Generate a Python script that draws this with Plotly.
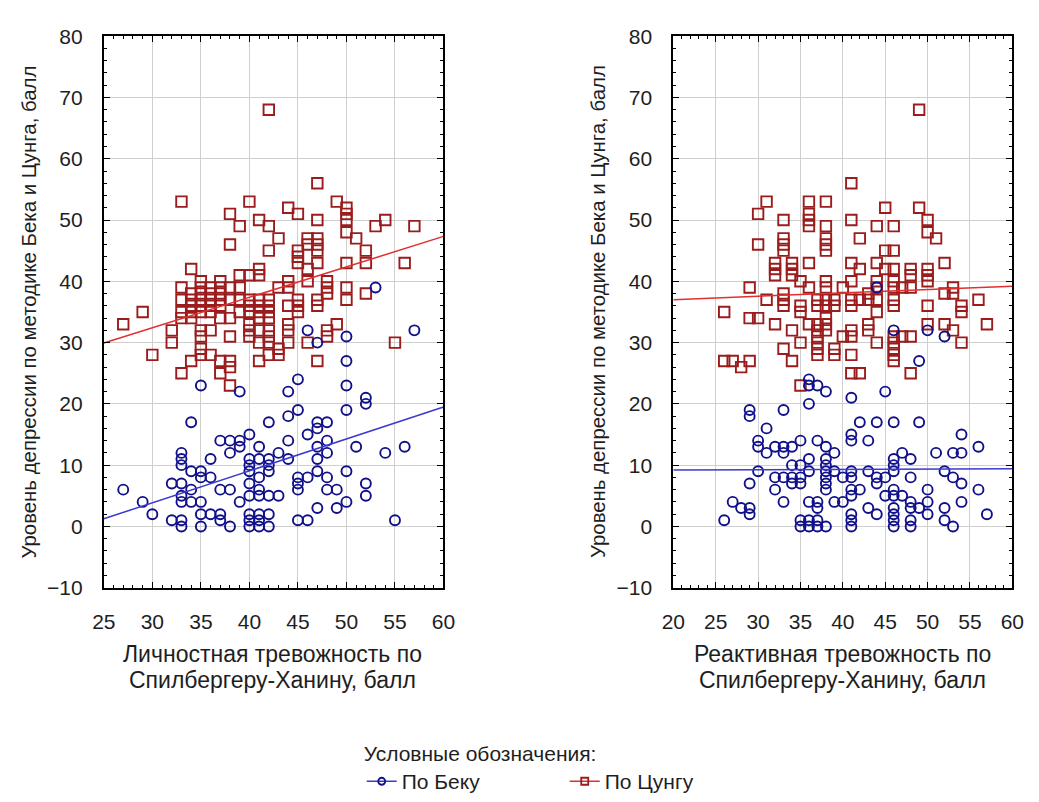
import numpy as np
import plotly.graph_objects as go

# ---------------- data ----------------
# Left panel: personal anxiety (x) vs depression score
left_zung = [(27,33),(29,35),(30,28),(32,32),(32,30),
 (33,39),(33,37),(33,35),(33,34),(33,25),(33,53),
 (34,42),(34,38),(34,37),(34,36),(34,35),(34,34),(34,27),
 (35,40),(35,39),(35,38),(35,37),(35,36),(35,35),(35,32),(35,31),(35,29),(35,28),
 (36,39),(36,38),(36,37),(36,36),(36,35),(36,32),(36,28),
 (37,40),(37,39),(37,38),(37,37),(37,36),(37,34),(37,27),(37,25),
 (38,51),(38,46),(38,39),(38,37),(38,34),(38,31),(38,27),(38,26),(38,23),
 (39,49),(39,41),(39,39),(39,37),(39,35),
 (40,53),(40,41),(40,37),(40,36),(40,35),(40,33),(40,32),(40,31),
 (41,50),(41,42),(41,41),(41,37),(41,36),(41,35),(41,34),(41,32),(41,30),(41,27),
 (42,68),(42,49),(42,45),(42,37),(42,36),(42,35),(42,34),(42,32),(42,31),(42,30),(42,28),
 (43,47),(43,39),(43,29),(43,28),
 (44,52),(44,40),(44,39),(44,36),(44,33),(44,32),(44,30),
 (45,51),(45,45),(45,44),(45,43),(45,37),(45,36),(45,35),
 (46,47),(46,46),(46,42),(46,40),(46,30),
 (47,56),(47,50),(47,47),(47,46),(47,45),(47,43),(47,37),(47,36),(47,27),
 (48,40),(48,39),(48,38),(48,32),(48,31),
 (49,53),(49,33),
 (50,52),(50,51),(50,50),(50,48),(50,43),(50,39),(50,37),
 (51,47),(52,45),(52,43),(52,38),(53,49),(54,50),(55,30),(56,43),(57,49)]

left_beck = [(27,6),(29,4),(30,2),
 (32,7),(32,1),
 (33,12),(33,11),(33,10),(33,7),(33,5),(33,4),(33,1),(33,0),
 (34,17),(34,9),(34,6),(34,4),
 (35,23),(35,9),(35,8),(35,4),(35,2),(35,0),
 (36,11),(36,8),(36,2),
 (37,14),(37,6),(37,2),(37,1),
 (38,14),(38,12),(38,6),(38,0),
 (39,22),(39,14),(39,13),(39,4),
 (40,15),(40,11),(40,10),(40,9),(40,7),(40,5),(40,2),(40,1),(40,0),
 (41,13),(41,11),(41,8),(41,6),(41,5),(41,2),(41,1),(41,0),
 (42,17),(42,11),(42,10),(42,9),(42,5),(42,2),(42,0),
 (43,12),(43,5),
 (44,22),(44,18),(44,14),(44,11),
 (45,24),(45,19),(45,8),(45,7),(45,6),(45,1),
 (46,32),(46,15),(46,8),(46,1),
 (47,30),(47,17),(47,16),(47,13),(47,11),(47,9),(47,3),
 (48,17),(48,14),(48,12),(48,8),(48,6),
 (49,6),(49,3),
 (50,31),(50,27),(50,23),(50,19),(50,9),(50,4),
 (51,13),(52,21),(52,20),(52,7),(52,5),(53,39),(54,12),(55,1),(56,13),(57,32)]

# Right panel: reactive anxiety (x) vs depression score
right_zung = [(26,35),(26,27),(27,27),(28,26),(29,27),(29,39),(29,34),(30,51),(30,46),(30,34),
 (31,53),(31,37),
 (32,43),(32,42),(32,41),(32,33),
 (33,50),(33,47),(33,46),(33,45),(33,38),(33,37),(33,36),(33,29),
 (34,43),(34,42),(34,41),(34,32),(34,27),
 (35,40),(35,36),(35,35),(35,30),(35,23),
 (36,53),(36,51),(36,50),(36,49),(36,43),(36,39),(36,33),
 (37,37),(37,36),(37,33),(37,32),(37,31),(37,30),(37,29),(37,28),
 (38,53),(38,49),(38,47),(38,46),(38,45),(38,40),(38,39),(38,37),(38,36),(38,34),(38,33),(38,32),
 (39,37),(39,36),(39,29),(39,28),
 (40,39),(40,31),
 (41,56),(41,50),(41,43),(41,40),(41,37),(41,36),(41,32),(41,31),(41,28),(41,25),
 (42,47),(42,42),(42,37),(42,25),
 (43,38),(43,37),(43,33),(43,32),
 (44,49),(44,43),(44,40),(44,39),(44,37),(44,35),(44,30),
 (45,52),(45,45),(45,42),
 (46,49),(46,45),(46,42),(46,40),(46,39),(46,37),(46,36),(46,31),(46,30),(46,29),(46,28),(46,27),
 (47,39),(47,31),
 (48,42),(48,41),(48,39),(48,31),(48,25),
 (49,68),(49,52),
 (50,50),(50,48),(50,42),(50,41),(50,40),(50,36),(50,33),
 (51,47),
 (52,43),(52,38),(52,33),
 (53,39),(53,38),(53,32),
 (54,36),(54,35),(54,30),
 (56,37),(57,33)]

right_beck = [(26,1),(27,4),(28,3),(29,19),(29,18),(29,7),(29,3),(29,2),
 (30,14),(30,13),(30,9),
 (31,16),(31,12),
 (32,13),(32,8),(32,6),
 (33,19),(33,13),(33,12),(33,8),(33,4),
 (34,13),(34,10),(34,8),(34,7),
 (35,14),(35,10),(35,8),(35,7),(35,1),(35,0),
 (36,24),(36,23),(36,20),(36,11),(36,9),(36,4),(36,1),(36,0),
 (37,23),(37,14),(37,4),(37,3),(37,1),(37,0),
 (38,22),(38,13),(38,11),(38,10),(38,9),(38,8),(38,7),(38,6),(38,0),
 (39,12),(39,9),(39,4),
 (40,8),(40,4),
 (41,21),(41,15),(41,14),(41,9),(41,8),(41,6),(41,5),(41,2),(41,1),(41,0),
 (42,17),(42,6),
 (43,14),(43,9),(43,3),
 (44,39),(44,17),(44,8),(44,7),(44,2),
 (45,22),(45,8),(45,5),
 (46,32),(46,17),(46,11),(46,10),(46,9),(46,6),(46,5),(46,3),(46,2),(46,1),(46,0),
 (47,12),(47,5),
 (48,11),(48,8),(48,4),(48,3),(48,1),(48,0),
 (49,27),(49,17),(49,3),
 (50,32),(50,6),(50,4),(50,2),
 (51,12),
 (52,31),(52,9),(52,3),(52,1),
 (53,12),(53,8),(53,0),
 (54,15),(54,12),(54,7),(54,4),
 (56,13),(56,6),(57,2)]

left_xrange = [25, 60]
right_xrange = [20, 60]
y_range = [-10, 80]

y_title = "Уровень депрессии по методике Бека и Цунга, балл"
left_xtitle = ["Личностная тревожность по", "Спилбергеру-Ханину, балл"]
right_xtitle = ["Реактивная тревожность по", "Спилбергеру-Ханину, балл"]
legend_title = "Условные обозначения:"
series_names = ["По Беку", "По Цунгу"]

# ---------------- styling ----------------
FONT = "Liberation Sans, Arial, sans-serif"
TXT = "#1e1e1e"
BLUE_MK = "#10108a"
RED_MK = "#9a1c1c"
BLUE_LN = "#3a3ad0"
RED_LN = "#e03030"
W, H = 1039, 802

fig = go.Figure()

def add_panel(data_beck, data_zung, xref, yref, xr):
    for data, mk, ln, sym, sz in [(data_zung, RED_MK, RED_LN, "square-open", 10.5),
                                  (data_beck, BLUE_MK, BLUE_LN, "circle-open", 10)]:
        xs = np.array([p[0] for p in data], dtype=float)
        ys = np.array([p[1] for p in data], dtype=float)
        fig.add_trace(go.Scatter(x=xs, y=ys, mode="markers", xaxis=xref, yaxis=yref,
                                 marker=dict(symbol=sym, size=sz, color=mk, line=dict(width=1.9, color=mk)),
                                 showlegend=False, hoverinfo="x+y"))
        k, b = np.polyfit(xs, ys, 1)
        lx = np.array(xr, dtype=float)
        fig.add_trace(go.Scatter(x=lx, y=k * lx + b, mode="lines", xaxis=xref, yaxis=yref,
                                 line=dict(color=ln, width=1.5), showlegend=False, hoverinfo="skip"))

add_panel(left_beck, left_zung, "x", "y", left_xrange)
add_panel(right_beck, right_zung, "x2", "y2", right_xrange)

# legend entries
for name, mk, ln, sym in [(series_names[0], BLUE_MK, BLUE_LN, "circle-open"),
                          (series_names[1], RED_MK, RED_LN, "square-open")]:
    fig.add_trace(go.Scatter(x=[None], y=[None], mode="lines+markers", name=name,
                             marker=dict(symbol=sym, size=7, color=mk, line=dict(width=1.8, color=mk)),
                             line=dict(color=ln, width=1.5)))

ax_common = dict(showgrid=True, gridcolor="#cfcfcf", gridwidth=1, zeroline=False,
                 showline=True, linecolor="black", linewidth=2, mirror="allticks",
                 ticks="inside", ticklen=6, tickwidth=1, tickcolor="black",
                 tickfont=dict(family=FONT, size=21, color=TXT))

L0, L1 = 94 / W, 441.7 / W
R0, R1 = 677 / W, 1024 / W
Y0, Y1 = 1 - 595 / H, 1 - 25 / H

fig.update_layout(
    width=W, height=H, margin=dict(l=0, r=0, t=0, b=0),
    paper_bgcolor="white", plot_bgcolor="white",
    xaxis=dict(domain=[L0, L1], range=left_xrange, dtick=5, anchor="y",
               minor=dict(ticks="inside", dtick=1, ticklen=3, tickcolor="black", showgrid=False),
               ticklabelstandoff=14, **ax_common),
    yaxis=dict(domain=[Y0, Y1], range=y_range, dtick=10, anchor="x",
               minor=dict(ticks="inside", dtick=2, ticklen=3, tickcolor="black", showgrid=False),
               ticklabelstandoff=15, **ax_common),
    xaxis2=dict(domain=[R0, R1], range=right_xrange, dtick=5, anchor="y2",
                minor=dict(ticks="inside", dtick=1, ticklen=3, tickcolor="black", showgrid=False),
                ticklabelstandoff=14, **ax_common),
    yaxis2=dict(domain=[Y0, Y1], range=y_range, dtick=10, anchor="x2",
                minor=dict(ticks="inside", dtick=2, ticklen=3, tickcolor="black", showgrid=False),
                ticklabelstandoff=15, **ax_common),
    legend=dict(orientation="h", x=358 / W, xanchor="left", y=1 - 746 / H, yanchor="top",
                font=dict(family=FONT, size=21, color=TXT),
                title=dict(text=legend_title, side="top", font=dict(family=FONT, size=21, color=TXT)),
                itemwidth=30, entrywidth=158, entrywidthmode="pixels",
                tracegroupgap=0, bgcolor="rgba(0,0,0,0)"),
)

ann = []
for xc in [17, 600]:
    ann.append(dict(text=y_title, x=xc / W, y=1 - 310 / H, xref="paper", yref="paper",
                    textangle=-90, showarrow=False, xanchor="center", yanchor="middle",
                    font=dict(family=FONT, size=20.4, color=TXT)))
for xc, lines in [(267, left_xtitle), (850, right_xtitle)]:
    for yc, t in zip([663, 690], lines):
        ann.append(dict(text=t, x=xc / W, y=1 - yc / H, xref="paper", yref="paper",
                        showarrow=False, xanchor="center", yanchor="middle",
                        font=dict(family=FONT, size=23, color=TXT)))
fig.update_layout(annotations=ann)

fig.write_html("out.html")
